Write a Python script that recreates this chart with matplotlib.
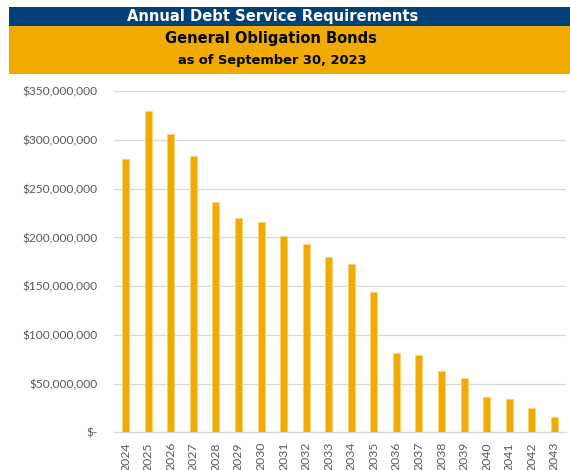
import matplotlib
matplotlib.use("Agg")
import matplotlib.pyplot as plt
from matplotlib.patches import Rectangle
from matplotlib.ticker import FuncFormatter

years = ["2024", "2025", "2026", "2027", "2028", "2029", "2030", "2031", "2032", "2033",
         "2034", "2035", "2036", "2037", "2038", "2039", "2040", "2041", "2042", "2043"]
values = [280.5e6, 329.7e6, 306.1e6, 283.2e6, 236.0e6, 220.0e6, 215.5e6, 201.5e6, 193.6e6, 179.9e6,
          173.0e6, 144.3e6, 81.4e6, 79.0e6, 62.9e6, 56.0e6, 35.9e6, 34.5e6, 25.3e6, 16.0e6]
y_ticks = [0, 50e6, 100e6, 150e6, 200e6, 250e6, 300e6, 350e6]

title1 = "Annual Debt Service Requirements"
title2 = "General Obligation Bonds"
title3 = "as of September 30, 2023"

W, H = 570, 470
fig = plt.figure(figsize=(W / 100, H / 100), dpi=100)

navy = "#004277"
orange = "#F0AA00"
bar_color = "#F0AA00"
gray_txt = "#595959"
grid_c = "#D9D9D9"

# header bands
fig.patches.append(Rectangle((9 / W, 1 - 25.7 / H), (570 - 9) / W, (25.7 - 6.7) / H,
                             transform=fig.transFigure, facecolor=navy, edgecolor="none"))
fig.patches.append(Rectangle((9 / W, 1 - 73.7 / H), (570 - 9) / W, (73.7 - 25.7) / H,
                             transform=fig.transFigure, facecolor=orange, edgecolor="none"))

fig.text(272.5 / W, 1 - 16.5 / H, title1, color="white", fontweight="bold", fontsize=10.6,
         ha="center", va="center", family="DejaVu Sans")
fig.text(271 / W, 1 - 39 / H, title2, color="black", fontweight="bold", fontsize=10.5,
         ha="center", va="center", family="DejaVu Sans")
fig.text(272 / W, 1 - 60.5 / H, title3, color="black", fontweight="bold", fontsize=9.35,
         ha="center", va="center", family="DejaVu Sans")

left, right = 114.3 / W, 565.7 / W
bottom, top = 1 - 432.3 / H, 1 - 91.3 / H
ax = fig.add_axes([left, bottom, right - left, top - bottom])

x = list(range(len(years)))
ax.bar(x, values, width=0.31, color=bar_color, edgecolor="#F7D27A", linewidth=0.6, zorder=3)
ax.set_xlim(-0.5, len(years) - 0.5)
ax.set_ylim(0, 350e6)
ax.set_yticks(y_ticks)


def fmt(v, pos):
    if v == 0:
        return "$-"
    return "${:,.0f}".format(v)


ax.yaxis.set_major_formatter(FuncFormatter(fmt))
ax.set_xticks(x)
ax.set_xticklabels(years, rotation=90)
ax.grid(axis="y", color=grid_c, linewidth=0.9, zorder=0)
for s in ["top", "right", "left"]:
    ax.spines[s].set_visible(False)
ax.spines["bottom"].set_color(grid_c)
ax.spines["bottom"].set_linewidth(0.9)
ax.tick_params(axis="y", length=0, pad=12, labelsize=8.6, labelcolor=gray_txt)
ax.tick_params(axis="x", length=0, pad=7, labelsize=8.8, labelcolor=gray_txt)
for lab in ax.get_xticklabels() + ax.get_yticklabels():
    lab.set_family("Lato")

fig.savefig("out.png", dpi=100)
